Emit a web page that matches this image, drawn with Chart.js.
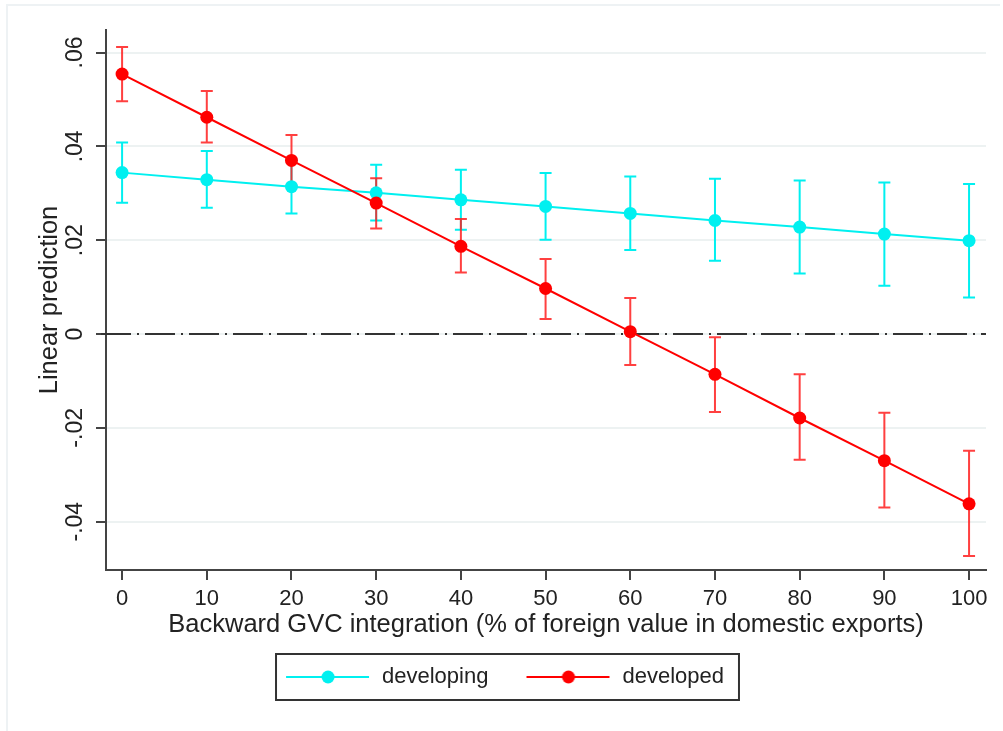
<!DOCTYPE html>
<html>
<head>
<meta charset="utf-8">
<script src="https://cdn.jsdelivr.net/npm/chart.js@4.4.1/dist/chart.umd.min.js"></script>
<style>
    html, body { margin: 0; padding: 0; background: #fff; }
    #wrap { position: relative; width: 1003px; height: 731px; }
    #frame { position: absolute; left: 6px; top: 4px; width: 992px; height: 730px; border-left: 2px solid #eef2f4; border-top: 2px solid #eef2f4; }
    canvas { position: absolute; left: 0; top: 0; }
</style>
</head>
<body>
<div id="wrap">
    <div id="frame"></div>
    <canvas id="chart" width="1003" height="731"></canvas>
</div>
<script>
// Data
const xValues = [0, 10, 20, 30, 40, 50, 60, 70, 80, 90, 100];

const developing   = [0.0344, 0.0329, 0.0314, 0.0301, 0.0286, 0.0272, 0.0257, 0.0242, 0.0228, 0.0213, 0.0199];
const developingLo = [0.0280, 0.0269, 0.0257, 0.0242, 0.0222, 0.0201, 0.0179, 0.0156, 0.0129, 0.0103, 0.0078];
const developingHi = [0.0408, 0.0390, 0.0371, 0.0361, 0.0350, 0.0343, 0.0336, 0.0331, 0.0327, 0.0323, 0.0320];

const developed   = [0.0554, 0.0462, 0.0370, 0.0279, 0.0187, 0.0097, 0.0005, -0.0086, -0.0179, -0.0270, -0.0362];
const developedLo = [0.0496, 0.0408, 0.0316, 0.0225, 0.0131, 0.0032, -0.0066, -0.0166, -0.0268, -0.0370, -0.0473];
const developedHi = [0.0612, 0.0518, 0.0424, 0.0332, 0.0245, 0.0160, 0.0077, -0.0007, -0.0086, -0.0168, -0.0249];

const xTicks = [0, 10, 20, 30, 40, 50, 60, 70, 80, 90, 100];
const yTicks = [-0.04, -0.02, 0, 0.02, 0.04, 0.06];
const yTickLabels = ['-.04', '-.02', '0', '.02', '.04', '.06'];

const seriesNames = ['developing', 'developed'];

const CYAN = '#00f0f0';
const RED = '#ff0000';
const FONT = "'Liberation Sans', Arial, Helvetica, sans-serif";
const TEXT = '#222';
const AXIS = '#444';

function toPoints(ys) {
    return xValues.map((x, i) => ({ x: x, y: ys[i] }));
}

// legend symbol: line with a dot in the middle
function legendSymbol(color) {
    const c = document.createElement('canvas');
    c.width = 86;
    c.height = 16;
    const g = c.getContext('2d');
    g.strokeStyle = color;
    g.lineWidth = 2;
    g.beginPath();
    g.moveTo(1, 8);
    g.lineTo(84, 8);
    g.stroke();
    g.fillStyle = color;
    g.beginPath();
    g.arc(43, 8, 6.5, 0, Math.PI * 2);
    g.fill();
    return c;
}

const errorBars = {
    id: 'errorBars',
    beforeDatasetsDraw(chart) {
        const ctx = chart.ctx;
        const xs = chart.scales.x, ys = chart.scales.y;
        const area = chart.chartArea;

        // dash-dot line at zero
        const y0 = ys.getPixelForValue(0);
        ctx.save();
        ctx.strokeStyle = '#333';
        ctx.lineWidth = 2;
        ctx.setLineDash([30, 6, 2, 6]);
        ctx.lineDashOffset = -5;
        ctx.beginPath();
        ctx.moveTo(area.left - 10, y0);
        ctx.lineTo(area.right, y0);
        ctx.stroke();
        ctx.restore();

        const sets = [
            { lo: developingLo, hi: developingHi, color: CYAN },
            { lo: developedLo, hi: developedHi, color: 'rgba(255,30,30,0.85)' }
        ];
        sets.forEach(s => {
            ctx.save();
            ctx.strokeStyle = s.color;
            ctx.lineWidth = 2;
            xValues.forEach((x, i) => {
                const px = xs.getPixelForValue(x);
                const top = ys.getPixelForValue(s.hi[i]);
                const bot = ys.getPixelForValue(s.lo[i]);
                ctx.beginPath();
                ctx.moveTo(px, top);
                ctx.lineTo(px, bot);
                ctx.moveTo(px - 6, top);
                ctx.lineTo(px + 6, top);
                ctx.moveTo(px - 6, bot);
                ctx.lineTo(px + 6, bot);
                ctx.stroke();
            });
            ctx.restore();
        });
    },
    afterDraw(chart) {
        // border round the legend
        const boxes = chart.legend.legendHitBoxes;
        if (!boxes || !boxes.length) return;
        const first = boxes[0], last = boxes[boxes.length - 1];
        const cy = first.top + first.height / 2;
        const ctx = chart.ctx;
        ctx.save();
        ctx.strokeStyle = '#333';
        ctx.lineWidth = 2;
        ctx.strokeRect(first.left - 9, cy - 23, last.left + last.width - first.left + 24, 46);
        ctx.restore();
    }
};

const ctx = document.getElementById('chart').getContext('2d');
new Chart(ctx, {
    type: 'line',
    data: {
        datasets: [
            {
                label: seriesNames[1],
                data: toPoints(developed),
                borderColor: RED,
                backgroundColor: RED,
                borderWidth: 2,
                pointRadius: 6.5,
                pointBorderWidth: 0,
                tension: 0
            },
            {
                label: seriesNames[0],
                data: toPoints(developing),
                borderColor: CYAN,
                backgroundColor: CYAN,
                borderWidth: 2,
                pointRadius: 6.5,
                pointBorderWidth: 0,
                tension: 0
            }
        ]
    },
    options: {
        responsive: false,
        animation: false,
        layout: { padding: { left: 23, right: 17, top: 30, bottom: 33 } },
        scales: {
            x: {
                type: 'linear',
                min: -1.9,
                max: 102,
                afterBuildTicks: s => { s.ticks = xTicks.map(v => ({ value: v })); },
                afterFit: s => { s.height = 59; },
                border: { color: AXIS, width: 2 },
                grid: { drawOnChartArea: false, tickColor: AXIS, tickLength: 10, lineWidth: 2 },
                ticks: {
                    color: TEXT,
                    font: { family: FONT, size: 22 },
                    padding: 6,
                    maxRotation: 0,
                    autoSkip: false
                },
                title: {
                    display: true,
                    text: 'Backward GVC integration (% of foreign value in domestic exports)',
                    color: TEXT,
                    font: { family: FONT, size: 25.5, lineHeight: 1 },
                    padding: { top: 0, bottom: -9 }
                }
            },
            y: {
                type: 'linear',
                min: -0.0503,
                max: 0.0648,
                afterBuildTicks: s => { s.ticks = yTicks.map(v => ({ value: v })); },
                afterFit: s => { s.width = 83; },
                border: { color: AXIS, width: 2 },
                grid: { color: '#edf2f2', lineWidth: 2, tickColor: AXIS, tickLength: 10 },
                ticks: {
                    color: TEXT,
                    font: { family: FONT, size: 23 },
                    padding: 1,
                    minRotation: 90,
                    maxRotation: 90,
                    crossAlign: 'center',
                    autoSkip: false,
                    callback: v => yTickLabels[yTicks.indexOf(v)]
                },
                title: {
                    display: true,
                    text: 'Linear prediction',
                    color: TEXT,
                    font: { family: FONT, size: 25.5, lineHeight: 1 },
                    padding: { top: 14, bottom: 0 }
                }
            }
        },
        plugins: {
            tooltip: { enabled: false },
            legend: {
                position: 'bottom',
                labels: {
                    color: TEXT,
                    font: { family: FONT, size: 22 },
                    padding: 37,
                    usePointStyle: true,
                    pointStyleWidth: 86,
                    generateLabels: () => [
                        { text: seriesNames[0], pointStyle: legendSymbol(CYAN), fillStyle: CYAN, strokeStyle: CYAN, lineWidth: 0, fontColor: TEXT, datasetIndex: 1 },
                        { text: seriesNames[1], pointStyle: legendSymbol(RED), fillStyle: RED, strokeStyle: RED, lineWidth: 0, fontColor: TEXT, datasetIndex: 0 }
                    ]
                }
            }
        }
    },
    plugins: [errorBars]
});
</script>
</body>
</html>
